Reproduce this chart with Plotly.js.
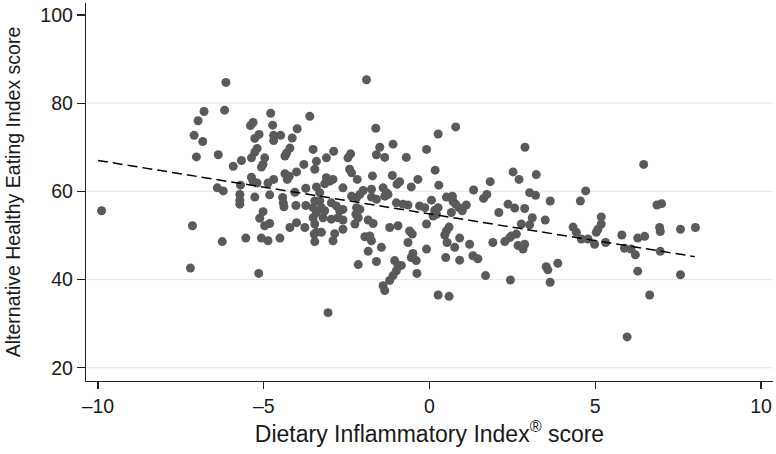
<!DOCTYPE html>
<html>
<head>
<meta charset="utf-8">
<script src="https://cdn.plot.ly/plotly-3.0.1.min.js"></script>
<style>html,body{margin:0;padding:0;background:#fff;}#chart{width:776px;height:454px;}</style>
</head>
<body>
<div id="chart"></div>
<script>
// Dietary Inflammatory Index score (x) and Alternative Healthy Eating Index score (y)
var diiScore = [
-6.80,-6.98,-7.10,-6.84,-7.03,-9.89,-7.15,-7.21,
-6.14,-6.18,-6.37,-4.79,-3.61,-5.32,-5.40,-4.73,-3.99,-5.14,-5.27,-4.70,-4.49,-4.70,-4.14,-5.20,-5.27,-5.37,-4.21,-4.31,-4.36,-3.51,-5.67,-5.92,-4.97,-5.02,-5.07,-3.41,-3.46,-3.79,-4.01,-4.36,-4.29,-4.23,-5.37,-5.32,-5.20,-4.70,-4.87,-5.70,-6.40,-6.22,-3.73,-3.41,-4.06,-5.72,-5.72,-5.72,-5.27,-4.82,-4.43,-4.41,-4.39,-4.03,-3.73,-3.46,-3.51,-5.02,-5.12,-4.97,-4.82,-3.51,-3.46,-3.41,-4.01,-4.21,-3.76,-5.54,-5.07,-4.87,-4.51,-6.25,-3.48,-3.46,-5.15,
-1.90,-1.62,-2.89,-3.11,-2.38,-2.46,-1.50,-1.60,-1.35,-1.10,-0.70,-0.09,-2.41,-2.35,-3.11,-3.01,-2.91,-3.16,-2.18,-1.72,-1.12,-0.90,-0.98,-0.35,-0.55,-3.31,-2.61,-2.00,-2.10,-2.20,-2.35,-1.75,-1.75,-1.60,-1.40,-1.30,-1.35,-1.25,-1.00,-0.80,-0.65,-0.30,-0.14,-3.31,-3.26,-3.41,-2.96,-2.81,-2.71,-2.61,-3.16,-3.21,-2.96,-2.76,-2.61,-2.20,-2.22,-2.15,-2.25,-2.10,-1.85,-1.70,-1.20,-0.95,-0.60,-0.52,-0.09,-3.26,-2.86,-2.91,-2.61,-1.95,-1.80,-1.75,-1.45,-0.65,-0.09,-1.85,-0.50,-0.40,-0.55,-1.60,-2.15,-1.05,-0.95,-0.85,-1.00,-1.10,-1.20,-1.40,-1.35,-0.38,-3.06,
0.79,0.26,2.88,0.17,2.52,2.70,3.22,1.83,0.28,1.33,1.73,1.63,3.02,3.20,0.51,0.69,0.71,0.79,0.06,0.26,0.16,0.21,0.11,0.89,0.99,1.11,0.66,2.37,2.57,2.09,2.87,3.10,0.59,0.51,0.46,0.53,2.77,3.02,2.62,2.47,2.42,0.91,1.21,0.76,1.91,2.27,2.67,2.87,2.82,0.49,0.91,1.31,1.46,1.69,2.44,0.26,0.59,
6.46,4.71,4.55,3.64,3.49,5.18,5.18,5.08,5.03,4.33,4.43,4.58,4.78,4.98,5.31,5.80,6.28,6.49,5.88,6.08,6.21,3.52,3.57,3.87,3.64,6.28,6.64,5.96,
6.86,7.00,6.94,6.96,7.57,8.02,6.96,7.57
];
var aheiScore = [
78.1,76.0,72.7,71.3,67.8,55.6,52.2,42.6,
84.7,78.4,68.3,77.7,77.0,75.6,74.9,75.0,74.2,72.9,72.0,72.7,72.7,71.5,72.1,69.7,68.9,67.6,69.8,68.7,68.0,69.5,67.0,65.7,67.6,66.1,65.5,66.8,65.0,66.1,64.4,64.0,62.7,63.4,63.2,62.3,61.9,62.7,61.9,61.4,60.8,60.1,60.7,61.0,59.8,59.3,58.0,57.1,58.7,59.2,58.6,57.4,56.5,56.8,56.8,57.8,56.3,55.4,53.9,52.2,52.7,54.0,52.6,50.7,52.9,51.8,51.8,49.4,49.4,48.8,49.4,48.6,50.3,48.6,41.4,
85.3,74.3,69.1,67.6,68.5,67.6,70.0,68.3,67.7,70.7,67.7,69.5,65.0,64.2,63.1,62.3,62.7,61.7,62.7,63.5,63.6,62.2,61.6,62.7,61.0,59.7,60.8,60.2,59.3,58.6,58.9,60.5,58.7,58.2,60.8,59.7,58.9,59.3,57.4,57.1,56.9,56.7,56.3,57.8,56.3,55.2,57.4,56.7,55.6,55.9,55.6,54.0,53.7,54.0,53.5,56.3,54.8,54.0,52.6,55.9,53.5,52.7,51.8,52.2,51.0,50.3,52.6,50.7,50.4,48.8,51.4,49.7,49.9,48.8,47.3,48.4,46.9,46.4,45.9,44.3,45.0,44.1,43.4,44.3,43.2,43.2,42.0,40.9,39.8,38.6,37.5,41.4,32.5,
74.6,73.0,70.0,64.8,64.4,62.7,63.8,62.2,61.4,60.3,59.3,58.4,59.7,59.1,58.7,58.9,57.7,57.1,58.0,56.3,55.7,54.8,54.4,56.3,55.6,56.9,55.2,57.1,56.2,55.2,56.1,54.0,51.9,51.0,50.1,48.4,52.6,52.4,50.3,49.9,49.5,49.4,48.0,47.3,48.4,48.6,47.7,48.0,46.9,45.0,44.4,45.4,44.7,40.9,39.9,36.5,36.2,
66.1,60.1,57.8,57.8,53.5,54.2,52.6,51.4,50.7,51.9,50.7,49.2,49.2,48.0,48.4,50.1,49.4,49.8,47.1,46.9,45.6,42.9,42.2,43.7,39.4,41.9,36.5,27.0,
56.9,57.2,51.8,50.9,51.4,51.8,46.4,41.1
];
// fitted regression line end points
var fitX = [-10, 8];
var fitY = [67.0, 45.2];
// axis ticks and grid
var xTicks = [-10, -5, 0, 5, 10];
var yTicks = [20, 40, 60, 80, 100];
var gridVals = [20, 40, 60, 80];

var shapes = gridVals.map(function (v) {
  return {type: 'line', xref: 'paper', x0: 0, x1: 1, yref: 'y', y0: v, y1: v,
          layer: 'below', line: {color: '#e6e6e6', width: 1}};
});

var traces = [
  {x: diiScore, y: aheiScore, type: 'scatter', mode: 'markers',
   marker: {color: '#5a5a5a', size: 9, line: {width: 0}}, hoverinfo: 'x+y'},
  {x: fitX, y: fitY, type: 'scatter', mode: 'lines',
   line: {color: '#000', width: 1.5, dash: '10px,5px'}, hoverinfo: 'skip'}
];

var layout = {
  width: 776, height: 454,
  margin: {l: 86, r: 3, t: 3, b: 73},
  paper_bgcolor: '#fff', plot_bgcolor: '#fff',
  showlegend: false,
  font: {family: '"Liberation Sans", Arial, sans-serif', color: '#1a1a1a', size: 19},
  xaxis: {
    range: [-10.36, 10.36], tickvals: xTicks, ticktext: xTicks.map(function(v){return v < 0 ? '\u2013' + Math.abs(v) : String(v);}),
    showgrid: false, zeroline: false,
    showline: true, linecolor: '#222', linewidth: 1.2,
    ticks: 'outside', ticklen: 7, tickcolor: '#222', tickwidth: 1.2,
    tickfont: {size: 19.5},
    title: {text: 'Dietary Inflammatory Index<sup>®</sup> score', font: {size: 23}, standoff: 10}
  },
  yaxis: {
    range: [17, 102.7], tickvals: yTicks,
    showgrid: false, zeroline: false,
    showline: true, linecolor: '#222', linewidth: 1.2,
    ticks: 'outside', ticklen: 8, tickcolor: '#222', tickwidth: 1.2,
    tickfont: {size: 19.5},
    title: {text: 'Alternative Healthy Eating Index score', font: {size: 19.5}, standoff: 14}
  },
  shapes: shapes
};

Plotly.newPlot('chart', traces, layout, {staticPlot: true, displayModeBar: false});
</script>
</body>
</html>
